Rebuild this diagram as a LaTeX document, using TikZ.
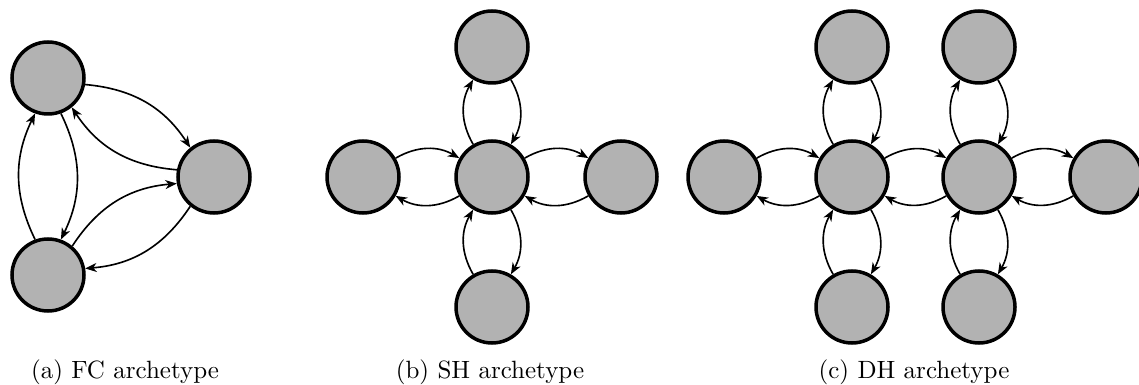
\documentclass[tikz,border=0pt]{standalone}
\usetikzlibrary{arrows.meta,calc}
\begin{document}
\begin{tikzpicture}[x=0.4pt,y=-0.4pt,
  agent/.style={circle, draw, line width=1.4pt, fill=black!30, minimum size=28.8pt, inner sep=0pt},
  link/.style={-{Stealth[length=4.6pt,width=3.6pt,inset=1.4pt]}, line width=0.65pt, bend left=30},
  fclink/.style={link, bend left=26},
  subcap/.style={anchor=base, inner sep=0pt}]
\useasboundingbox (0,0) rectangle (1139,385);

% (a) fully connected: three agents
\node[agent] (fa) at (48,78) {};
\node[agent] (fb) at (214,177) {};
\node[agent] (fc) at (48,275) {};
% each arc leaves and enters 20 degrees off the line between the centres
\foreach \u/\v in {fa/fb, fb/fa, fa/fc, fc/fa, fb/fc, fc/fb}
  \draw[fclink] let \p1=($(\v)-(\u)$), \n1={atan2(\y1,\x1)} in
    (\u.{\n1+20}) to (\v.{\n1+160});
\node[subcap] (capa) at (125,378) {(a) FC archetype};

% (b) single hub with four leaves
\node[agent] (sh) at (492,177) {};
\node[agent] (sw) at (363,177) {};
\node[agent] (se) at (621,177) {};
\node[agent] (sn) at (492,47) {};
\node[agent] (ss) at (492,307) {};
\foreach \v in {sw, se, sn, ss} {
  \draw[link] (sh) to (\v);
  \draw[link] (\v) to (sh);
}
\node[subcap] (capb) at (490,378) {(b) SH archetype};

% (c) double hub, each hub with three leaves
\node[agent] (da) at (852,177) {};
\node[agent] (db) at (979,177) {};
\node[agent] (dw) at (724,177) {};
\node[agent] (de) at (1106,177) {};
\node[agent] (dan) at (852,47) {};
\node[agent] (das) at (852,307) {};
\node[agent] (dbn) at (979,47) {};
\node[agent] (dbs) at (979,307) {};
\foreach \h/\v in {da/dw, da/dan, da/das, da/db, db/de, db/dbn, db/dbs} {
  \draw[link] (\h) to (\v);
  \draw[link] (\v) to (\h);
}
\node[subcap] (capc) at (914,378) {(c) DH archetype};
\end{tikzpicture}
\end{document}
